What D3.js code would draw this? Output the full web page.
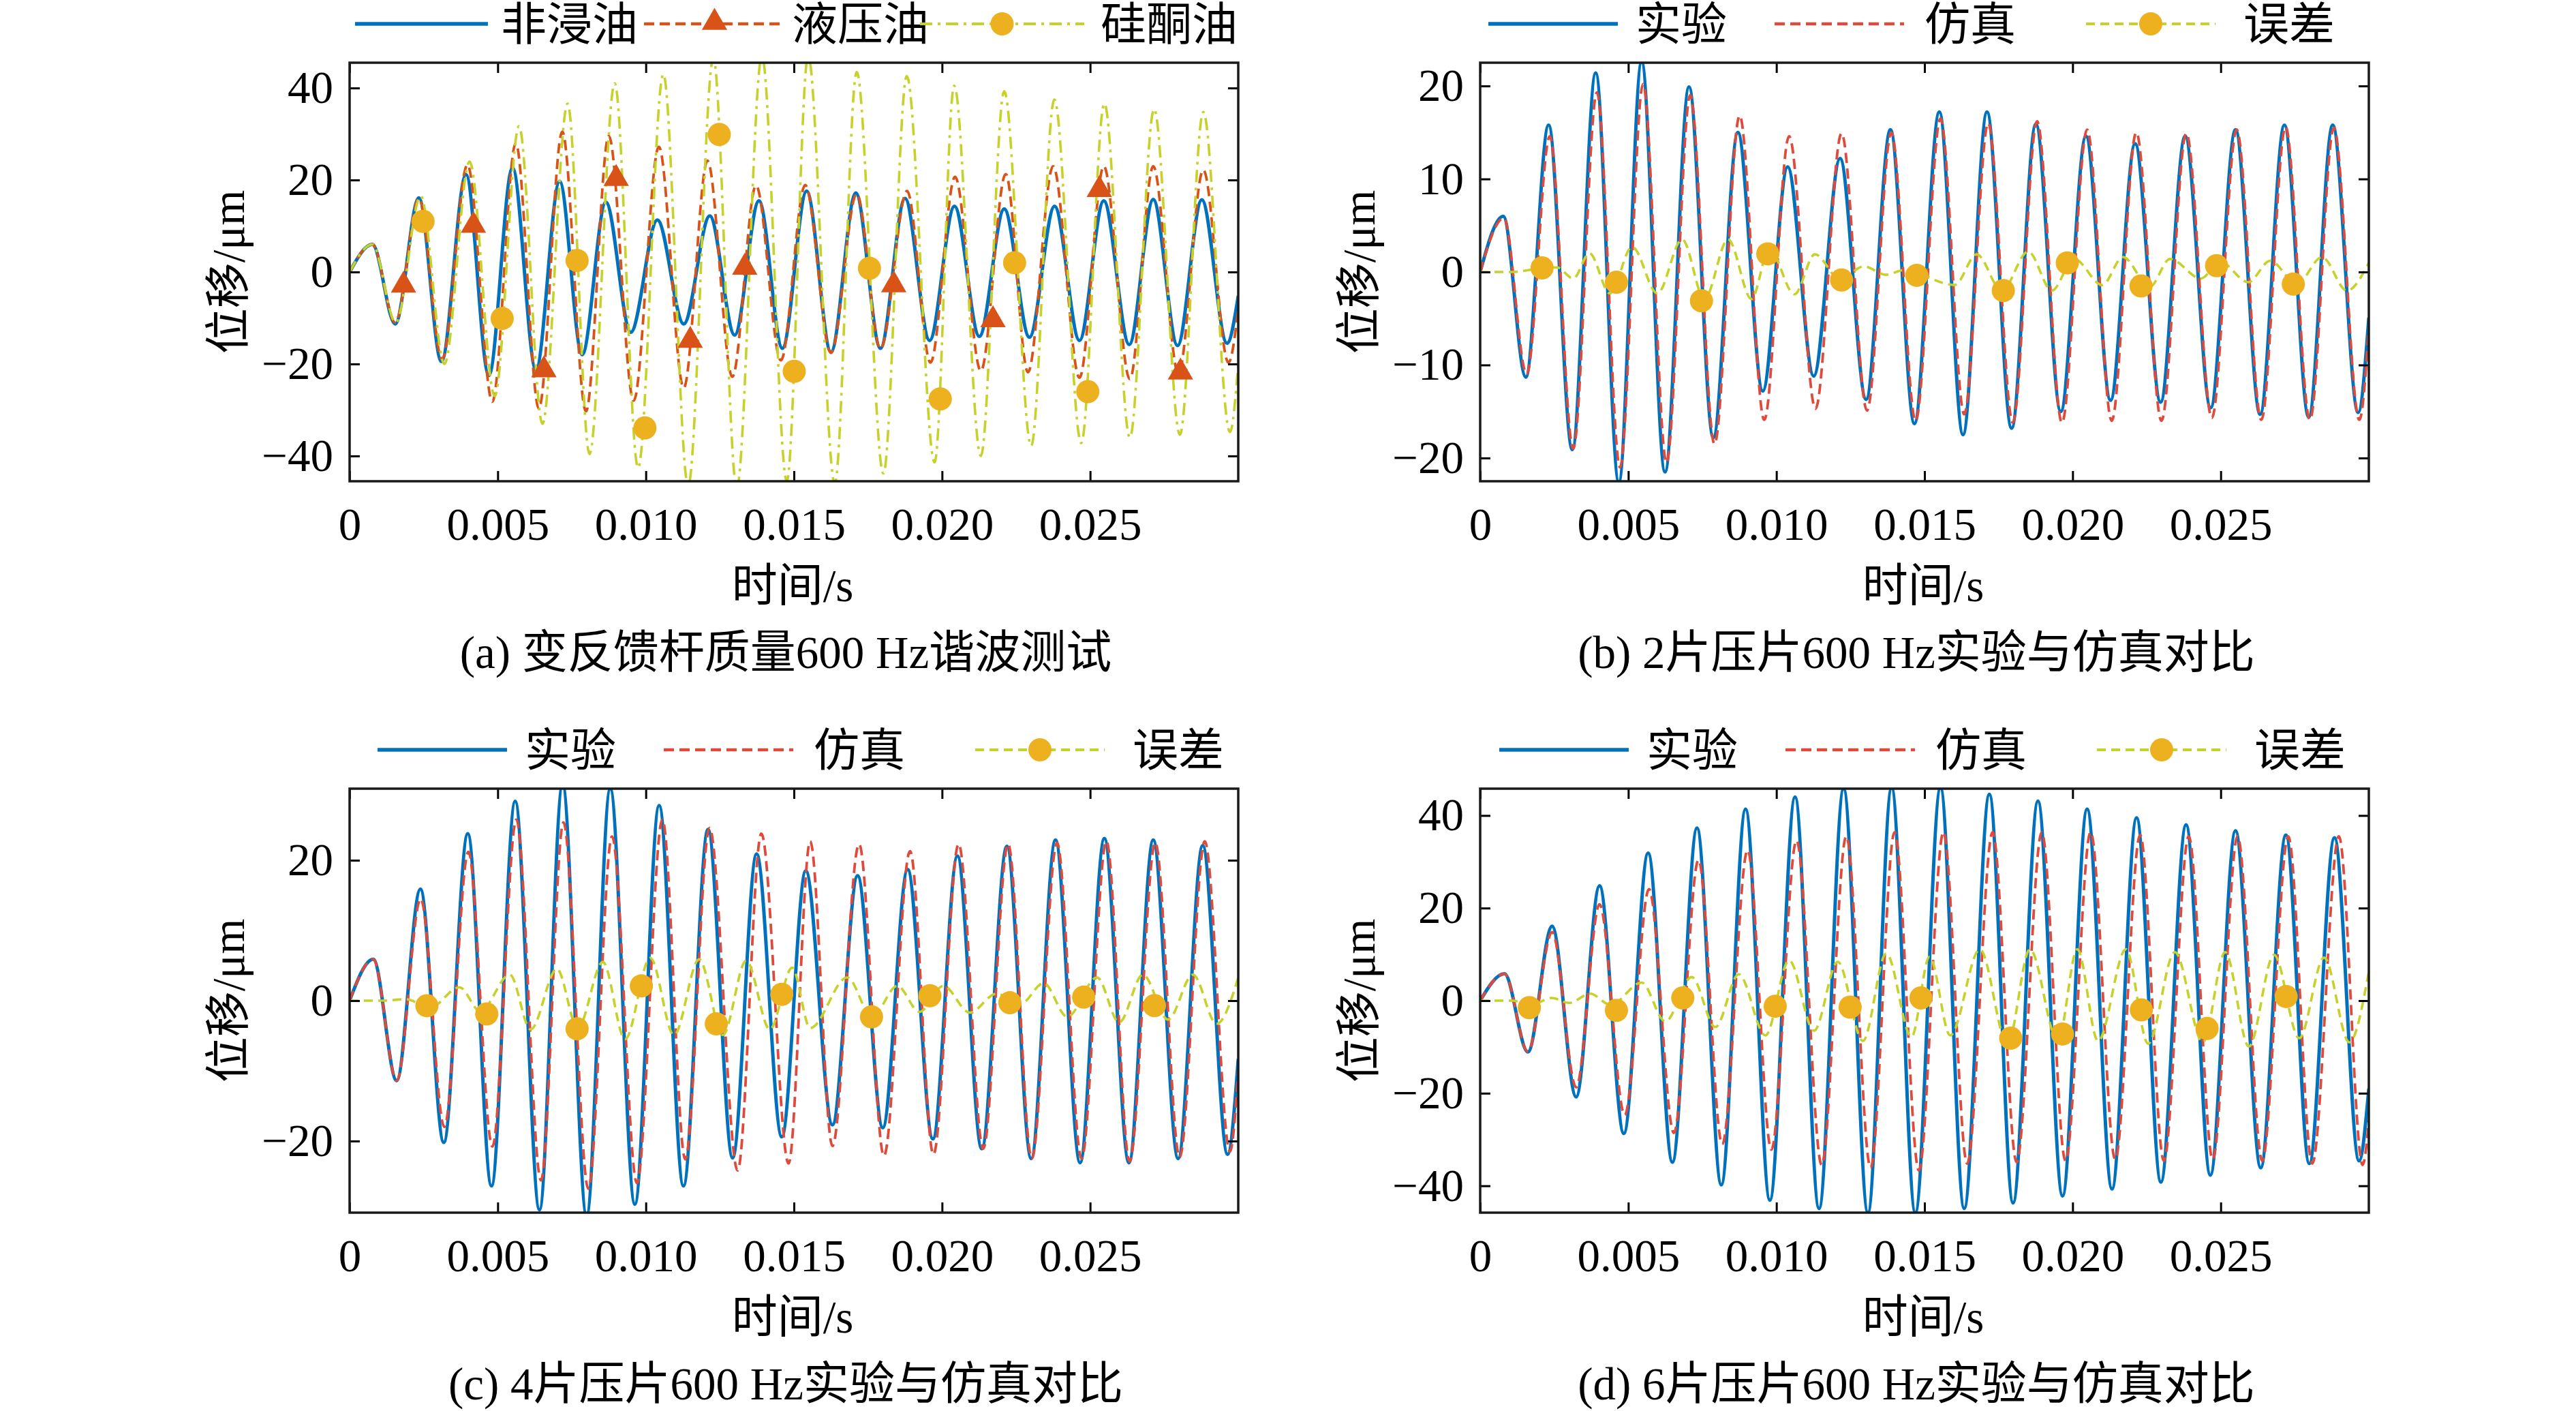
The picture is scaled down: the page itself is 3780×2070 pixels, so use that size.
<!DOCTYPE html>
<html>
<head>
<meta charset="utf-8">
<script src="https://cdn.jsdelivr.net/npm/d3@7"></script>
<style>
body { margin: 0; background: #fff; }
text { font-family: "Liberation Serif", "Times New Roman", "Noto Sans CJK SC", serif; fill: #000; }
</style>
</head>
<body>
<div class="js-vis"></div>
<script>
"use strict";

// ---- data: [time s, displacement um] at each turning point ----
// (a) feedback rod mass, 600 Hz
var nonOil = [[0,0],[0.00077,6.0],[0.00154,-11.3],[0.00234,16.1],[0.0031,-19.5],[0.00393,21.2],[0.0047,-22.5],[0.0055,22.7],[0.00629,-21.3],[0.00709,19.7],[0.00785,-18.0],[0.00865,15.2],[0.00949,-13.1],[0.01039,11.3],[0.01128,-11.3],[0.01216,12.2],[0.013,-13.7],[0.01382,15.5],[0.01461,-16.6],[0.01543,17.6],[0.01625,-17.4],[0.01709,17.2],[0.01792,-16.6],[0.01875,16.0],[0.01958,-14.9],[0.02042,14.3],[0.02126,-14.0],[0.0221,13.7],[0.02295,-14.2],[0.0238,14.3],[0.02464,-14.9],[0.02546,15.5],[0.02632,-15.8],[0.02713,15.8],[0.02795,-16.0],[0.02877,15.7],[0.02962,-15.5],[0.03,-5.2]];
var hydOil = [[0,0],[0.00077,6.0],[0.00154,-11.0],[0.00234,16.0],[0.00312,-19.0],[0.00398,23.3],[0.00482,-28.2],[0.00561,28.0],[0.00639,-29.7],[0.00718,30.5],[0.00798,-30.3],[0.00875,29.6],[0.00959,-28.0],[0.01044,27.2],[0.01128,-25.2],[0.01208,24.2],[0.01292,-22.8],[0.01372,18.8],[0.01456,-19.2],[0.01538,18.9],[0.01625,-17.6],[0.01712,17.0],[0.01792,-16.7],[0.01882,17.6],[0.01961,-19.7],[0.02044,20.7],[0.02131,-21.5],[0.02215,21.3],[0.0229,-21.8],[0.02375,23.0],[0.02464,-23.0],[0.02546,23.0],[0.02634,-23.3],[0.02713,23.0],[0.02798,-22.1],[0.02882,22.2],[0.02967,-19.7],[0.03,-8.0]];
var siliconeOil = [[0,0],[0.00077,6.0],[0.00156,-11.0],[0.0024,16.5],[0.0032,-20.0],[0.00405,24.0],[0.0049,-27.0],[0.00572,31.7],[0.00651,-33.0],[0.00736,36.6],[0.0081,-39.6],[0.00895,41.0],[0.00974,-42.6],[0.01059,43.0],[0.01143,-46.5],[0.01228,46.5],[0.01307,-47.0],[0.01392,47.0],[0.01476,-45.5],[0.01548,47.0],[0.01638,-46.0],[0.01712,43.5],[0.01802,-43.8],[0.01881,42.6],[0.01975,-41.4],[0.02041,40.5],[0.02131,-40.0],[0.0221,39.3],[0.02301,-37.8],[0.02379,37.5],[0.0247,-37.2],[0.02548,36.6],[0.02634,-36.0],[0.02716,35.4],[0.02803,-35.4],[0.02882,34.8],[0.02972,-34.8],[0.03,-20.0]];
var hydMarks = [[0.00182,-3.2],[0.00418,9.8],[0.00656,-21.6],[0.009,20.0],[0.0115,-15.2],[0.01334,0.7],[0.01837,-3.1],[0.02172,-10.7],[0.02531,17.6],[0.02805,-22.1]];
var silMarks = [[0.00248,11.0],[0.00515,-10.1],[0.00768,2.5],[0.00997,-33.9],[0.01248,29.9],[0.01501,-21.6],[0.01755,0.8],[0.01994,-27.6],[0.02245,2.0],[0.02492,-26.0]];

// (b) 2 piezo sheets
var expB = [[0,0],[0.00078,6.0],[0.00154,-11.3],[0.00231,15.8],[0.00311,-19.1],[0.0039,21.4],[0.00468,-22.6],[0.00545,22.6],[0.00624,-21.5],[0.00705,19.9],[0.00787,-17.8],[0.0087,15.0],[0.00954,-12.8],[0.01038,11.3],[0.01126,-11.2],[0.01215,12.2],[0.01303,-13.7],[0.01385,15.3],[0.01466,-16.3],[0.0155,17.2],[0.0163,-17.5],[0.01711,17.2],[0.01794,-16.8],[0.01876,15.9],[0.0196,-15.0],[0.02045,14.6],[0.02128,-13.8],[0.02211,13.8],[0.02297,-14.0],[0.0238,14.6],[0.02466,-14.6],[0.0255,15.3],[0.02633,-15.3],[0.02715,15.8],[0.02797,-15.6],[0.02878,15.8],[0.02964,-15.1],[0.03,-4.9]];
var simB = [[0,0],[0.0008,5.8],[0.00157,-11.0],[0.00235,14.6],[0.00314,-19.0],[0.00394,19.3],[0.00472,-21.0],[0.0055,20.2],[0.00629,-20.5],[0.00709,19.0],[0.00791,-18.5],[0.00876,16.8],[0.00959,-15.9],[0.01043,14.6],[0.01132,-14.7],[0.0122,14.9],[0.01306,-14.9],[0.01388,15.0],[0.0147,-16.0],[0.01554,16.5],[0.01634,-15.3],[0.01715,16.0],[0.01798,-16.2],[0.0188,16.2],[0.01964,-16.2],[0.02049,15.3],[0.02132,-16.0],[0.02215,15.0],[0.023,-16.0],[0.02384,14.9],[0.0247,-15.7],[0.02554,15.3],[0.02637,-15.9],[0.02719,15.6],[0.02801,-15.9],[0.02882,15.5],[0.02968,-15.9],[0.03,-6.0]];
var errB = [[0,0],[0.0011,0],[0.00184,0.3],[0.00259,0.5],[0.00314,-0.7],[0.00369,2.0],[0.00438,-2.3],[0.00513,2.7],[0.00598,-2.3],[0.00682,3.5],[0.00757,-2.9],[0.00837,3.5],[0.00916,-2.9],[0.00976,2.5],[0.01061,-2.4],[0.0113,1.9],[0.01215,-0.8],[0.01295,0.6],[0.0137,-0.3],[0.0143,0.2],[0.01602,-1.4],[0.01676,1.9],[0.01761,-2.0],[0.0185,2.2],[0.0193,-2.0],[0.02005,1.4],[0.021,-1.4],[0.0217,1.6],[0.0226,-1.6],[0.02329,1.4],[0.02433,-0.7],[0.02498,1.1],[0.02593,-1.1],[0.02667,1.2],[0.02757,-1.3],[0.02842,1.6],[0.02926,-2.0],[0.03,1.0]];
var errMarksB = [[0.00209,0.44],[0.0046,-1.1],[0.00747,-3.1],[0.00971,1.95],[0.0122,-0.86],[0.01474,-0.36],[0.01766,-2.0],[0.01982,0.98],[0.02231,-1.5],[0.02486,0.68],[0.02745,-1.3]];

// (c) 4 piezo sheets
var expC = [[0,0],[0.0008,5.9],[0.00159,-11.4],[0.00239,15.9],[0.00318,-20.2],[0.00399,23.8],[0.00479,-26.4],[0.00559,28.4],[0.00641,-29.8],[0.00719,30.8],[0.008,-30.6],[0.0088,30.2],[0.00963,-29.0],[0.01045,27.8],[0.01127,-26.4],[0.0121,24.4],[0.01293,-22.4],[0.01374,20.9],[0.01459,-19.4],[0.0154,18.5],[0.0163,-17.7],[0.01715,17.8],[0.018,-18.1],[0.01884,18.7],[0.01969,-19.7],[0.02052,20.6],[0.02134,-21.1],[0.02219,22.0],[0.02301,-22.5],[0.02383,22.9],[0.02466,-23.1],[0.02548,23.1],[0.02631,-23.1],[0.02713,22.9],[0.02797,-22.5],[0.0288,22.1],[0.02964,-21.9],[0.03,-8.3]];
var simC = [[0,0],[0.0008,5.9],[0.00159,-11.4],[0.0024,14.5],[0.0032,-18.0],[0.00401,21.2],[0.00482,-20.8],[0.00563,25.8],[0.00646,-25.6],[0.00722,25.4],[0.00806,-26.8],[0.00886,23.4],[0.0097,-26.0],[0.01056,25.8],[0.01133,-22.6],[0.01215,24.6],[0.0131,-24.2],[0.0139,23.8],[0.01482,-23.2],[0.01555,22.7],[0.0163,-20.7],[0.0172,22.3],[0.01804,-22.1],[0.01892,21.3],[0.01971,-21.9],[0.02056,22.3],[0.02139,-21.1],[0.02223,22.3],[0.02303,-22.5],[0.02388,22.5],[0.02471,-22.5],[0.02555,22.7],[0.02633,-22.9],[0.0272,22.5],[0.02802,-22.3],[0.02887,22.7],[0.02972,-21.5],[0.03,-10.0]];
var errC = [[0,0],[0.0011,0],[0.0019,0.2],[0.00271,-1.0],[0.00371,1.9],[0.00441,-1.5],[0.00541,3.7],[0.00611,-4.1],[0.007,4.5],[0.0077,-3.9],[0.00855,5.5],[0.0093,-5.5],[0.01015,6.1],[0.01095,-4.9],[0.0118,5.9],[0.0126,-4.9],[0.01339,5.7],[0.01419,-4.1],[0.01494,4.7],[0.01555,-3.9],[0.0168,3.3],[0.01764,-2.3],[0.01849,2.1],[0.01924,-1.6],[0.02004,2.1],[0.02094,-1.7],[0.02184,1.0],[0.02264,-0.5],[0.02343,2.5],[0.02423,-2.3],[0.02523,3.3],[0.02598,-3.1],[0.02678,3.7],[0.02763,-2.7],[0.02847,3.7],[0.02927,-3.3],[0.03,3.3]];
var errMarksC = [[0.00261,-0.72],[0.00463,-1.9],[0.00768,-4.0],[0.00985,2.1],[0.01238,-3.3],[0.01459,0.9],[0.01762,-2.3],[0.01959,0.7],[0.02229,-0.3],[0.02478,0.5],[0.02717,-0.7]];

// (d) 6 piezo sheets
var expD = [[0,0],[0.00082,5.8],[0.00161,-11.1],[0.00243,16.1],[0.00324,-20.8],[0.00403,24.8],[0.00485,-28.7],[0.00567,31.9],[0.00649,-34.9],[0.00732,37.3],[0.00814,-39.8],[0.00896,41.4],[0.00978,-43.1],[0.01063,44.0],[0.01144,-44.9],[0.01227,45.8],[0.01309,-45.8],[0.01389,46.0],[0.01469,-45.8],[0.01554,46.0],[0.01634,-44.9],[0.01719,44.6],[0.01799,-43.7],[0.01883,43.1],[0.01966,-42.2],[0.02049,41.4],[0.02133,-40.7],[0.02216,39.5],[0.02298,-39.2],[0.02383,38.0],[0.02465,-37.7],[0.0255,36.7],[0.02635,-36.1],[0.0272,35.8],[0.02799,-35.2],[0.02884,35.2],[0.02967,-34.6],[0.03,-19.0]];
var simD = [[0,0],[0.00082,5.8],[0.00161,-11.0],[0.00243,14.8],[0.00324,-18.7],[0.00403,20.8],[0.00488,-24.7],[0.0057,24.1],[0.00654,-28.6],[0.00737,30.4],[0.00817,-31.0],[0.00903,32.5],[0.00983,-32.2],[0.01068,34.6],[0.01153,-35.5],[0.01236,35.5],[0.01318,-36.1],[0.01399,36.4],[0.01481,-36.7],[0.01564,36.4],[0.01644,-35.2],[0.0173,36.4],[0.01811,-34.9],[0.01896,36.4],[0.01976,-34.6],[0.02061,36.4],[0.02144,-34.3],[0.02228,35.8],[0.02308,-34.6],[0.02392,35.5],[0.02473,-34.3],[0.02557,35.5],[0.0264,-34.6],[0.02728,35.5],[0.02809,-35.2],[0.02899,35.5],[0.02979,-35.5],[0.03,-26.0]];
var errD = [[0,0],[0.0011,0],[0.0017,-1.0],[0.00241,0.6],[0.00301,-0.5],[0.00371,1.5],[0.0044,-0.9],[0.00545,3.9],[0.00625,-4.5],[0.00714,5.1],[0.00794,-5.7],[0.00873,5.7],[0.00963,-7.5],[0.01043,8.7],[0.01127,-6.5],[0.01207,8.4],[0.01292,-8.7],[0.01371,10.2],[0.01456,-7.8],[0.01517,9.5],[0.01587,-7.5],[0.01687,11.1],[0.0178,-9.3],[0.01856,11.1],[0.0195,-8.7],[0.02016,11.1],[0.02086,-8.7],[0.0218,11.1],[0.02255,-9.3],[0.02345,10.5],[0.0244,-9.0],[0.02515,10.5],[0.02595,-9.9],[0.0268,9.9],[0.02765,-8.1],[0.02849,9.3],[0.02934,-9.0],[0.03,6.3]];
var errMarksD = [[0.00166,-1.5],[0.0046,-2.1],[0.00684,0.6],[0.00996,-1.2],[0.01249,-1.4],[0.01488,0.6],[0.01791,-8.1],[0.01966,-7.2],[0.02232,-2.0],[0.02454,-6.0],[0.02721,0.9]];

// ---- ticks and labels ----
var xTicks = [0, 0.005, 0.010, 0.015, 0.020, 0.025];
var xTickLabels = ["0", "0.005", "0.010", "0.015", "0.020", "0.025"];
var yTicksA = [-40, -20, 0, 20, 40],
    yTicksB = [-20, -10, 0, 10, 20],
    yTicksC = [-20, 0, 20],
    yTicksD = [-40, -20, 0, 20, 40];
var namesA = ["非浸油", "液压油", "硅酮油"],
    namesBCD = ["实验", "仿真", "误差"];
var captions = ["(a) 变反馈杆质量600 Hz谐波测试", "(b) 2片压片600 Hz实验与仿真对比",
                "(c) 4片压片600 Hz实验与仿真对比", "(d) 6片压片600 Hz实验与仿真对比"];

var BLUE = "#0072BD", RED = "#D95319", PINK = "#DE4A3C", YEL = "#C6D12A", MARK = "#EDB120";
var FS = 67;

var svg = d3.select(".js-vis").append("svg")
    .attr("width", 3780).attr("height", 2070)
    .style("background", "#fff");

var plotW = 1304;

// legend layout: [lineStart, lineEnd, textX] relative to plot left
var legendA = [[8, 203, 222], [432, 639, 649], [837, 1078, 1102]];
function legendBCD(s) {
  return [[s, s + 190, s + 216], [s + 420, s + 610, s + 640], [s + 877, s + 1067, s + 1108]];
}

var panels = [
  { left: 513, top: 92, h: 614, ydom: [-45.5, 45.5], yticks: yTicksA, names: namesA, legend: legendA,
    series: [
      { data: nonOil, color: BLUE, width: 5, dash: null },
      { data: hydOil, color: RED, width: 3.8, dash: "15,8" , marks: hydMarks, mark: "tri" },
      { data: siliconeOil, color: YEL, width: 3.6, dash: "18,8,4,8", marks: silMarks, mark: "circle" }
    ] },
  { left: 2172, top: 92, h: 614, ydom: [-22.5, 22.5], yticks: yTicksB, names: namesBCD, legend: legendBCD(12),
    series: [
      { data: expB, color: BLUE, width: 5, dash: null },
      { data: simB, color: PINK, width: 3.8, dash: "15,8" },
      { data: errB, color: YEL, width: 3.6, dash: "13,8", marks: errMarksB, mark: "circle" }
    ] },
  { left: 513, top: 1157, h: 622, ydom: [-30.2, 30.2], yticks: yTicksC, names: namesBCD, legend: legendBCD(41),
    series: [
      { data: expC, color: BLUE, width: 5, dash: null },
      { data: simC, color: PINK, width: 3.8, dash: "15,8" },
      { data: errC, color: YEL, width: 3.6, dash: "13,8", marks: errMarksC, mark: "circle" }
    ] },
  { left: 2172, top: 1157, h: 622, ydom: [-45.8, 45.8], yticks: yTicksD, names: namesBCD, legend: legendBCD(28),
    series: [
      { data: expD, color: BLUE, width: 5, dash: null },
      { data: simD, color: PINK, width: 3.8, dash: "15,8" },
      { data: errD, color: YEL, width: 3.6, dash: "13,8", marks: errMarksD, mark: "circle" }
    ] }
];

function drawMark(g, type, color, cx, cy) {
  if (type === "tri") {
    g.append("path")
      .attr("d", d3.symbol(d3.symbolTriangle, 600)())
      .attr("transform", "translate(" + cx + "," + (cy - 2) + ")")
      .attr("fill", color);
  } else {
    g.append("circle").attr("cx", cx).attr("cy", cy).attr("r", 17).attr("fill", MARK);
  }
}

panels.forEach(function (p, i) {
  var x = d3.scaleLinear().domain([0, 0.03]).range([0, plotW]);
  var y = d3.scaleLinear().domain(p.ydom).range([p.h, 0]);

  var vis = svg.append("g").attr("transform", "translate(" + p.left + "," + p.top + ")");

  svg.append("clipPath").attr("id", "clip" + i)
    .append("rect").attr("width", plotW).attr("height", p.h);

  var line = d3.line()
    .x(function (d) { return x(d[0]); })
    .y(function (d) { return y(d[1]); })
    .curve(d3.curveMonotoneX);

  var plot = vis.append("g").attr("clip-path", "url(#clip" + i + ")");

  p.series.forEach(function (s) {
    plot.append("path").datum(s.data)
      .attr("d", line)
      .attr("fill", "none")
      .attr("stroke", s.color)
      .attr("stroke-width", s.width)
      .attr("stroke-dasharray", s.dash);
  });
  p.series.forEach(function (s) {
    if (!s.marks) return;
    s.marks.forEach(function (m) {
      drawMark(plot, s.mark, s.color, x(m[0]), y(m[1]));
    });
  });

  // axes, ticks pointing inwards on all four sides
  var xax = d3.axisBottom(x).tickValues(xTicks)
    .tickFormat(function (d, k) { return xTickLabels[k]; })
    .tickSizeInner(-15).tickSizeOuter(0).tickPadding(38);
  var yax = d3.axisLeft(y).tickValues(p.yticks)
    .tickSizeInner(-15).tickSizeOuter(0).tickPadding(24);

  vis.append("g").attr("transform", "translate(0," + p.h + ")").call(xax);
  vis.append("g").call(yax);
  vis.append("g").call(d3.axisTop(x).tickValues(xTicks).tickSizeInner(-15).tickSizeOuter(0).tickFormat(""));
  vis.append("g").attr("transform", "translate(" + plotW + ",0)")
    .call(d3.axisRight(y).tickValues(p.yticks).tickSizeInner(-15).tickSizeOuter(0).tickFormat(""));

  vis.selectAll(".domain").remove();
  vis.selectAll(".tick line").attr("stroke", "#000").attr("stroke-width", 3);
  vis.selectAll(".tick text")
    .attr("font-size", FS)
    .attr("font-family", "Liberation Serif, Times New Roman, serif")
    .attr("fill", "#000");

  vis.append("rect").attr("width", plotW).attr("height", p.h)
    .attr("fill", "none").attr("stroke", "#1a1a1a").attr("stroke-width", 3.5);

  // axis titles
  vis.append("text")
    .attr("x", plotW / 2 - 2).attr("y", p.h + 176)
    .attr("text-anchor", "middle").attr("font-size", FS)
    .text("时间/s");
  vis.append("text")
    .attr("transform", "translate(-155," + (p.h / 2) + ") rotate(-90)")
    .attr("text-anchor", "middle").attr("font-size", FS)
    .text("位移/μm");

  // caption
  vis.append("text")
    .attr("x", plotW / 2 - 12).attr("y", p.h + 274)
    .attr("text-anchor", "middle").attr("font-size", FS)
    .text(captions[i]);

  // legend
  var lg = vis.append("g").attr("transform", "translate(0,-57)");
  p.series.forEach(function (s, k) {
    var pos = p.legend[k];
    lg.append("line")
      .attr("x1", pos[0]).attr("x2", pos[1])
      .attr("stroke", s.color).attr("stroke-width", s.width + 0.5)
      .attr("stroke-dasharray", s.dash);
    if (s.marks) drawMark(lg, s.mark, s.color, (pos[0] + pos[1]) / 2, 0);
    lg.append("text")
      .attr("x", pos[2]).attr("dy", "0.36em")
      .attr("font-size", FS)
      .text(p.names[k]);
  });
});
</script>
</body>
</html>
